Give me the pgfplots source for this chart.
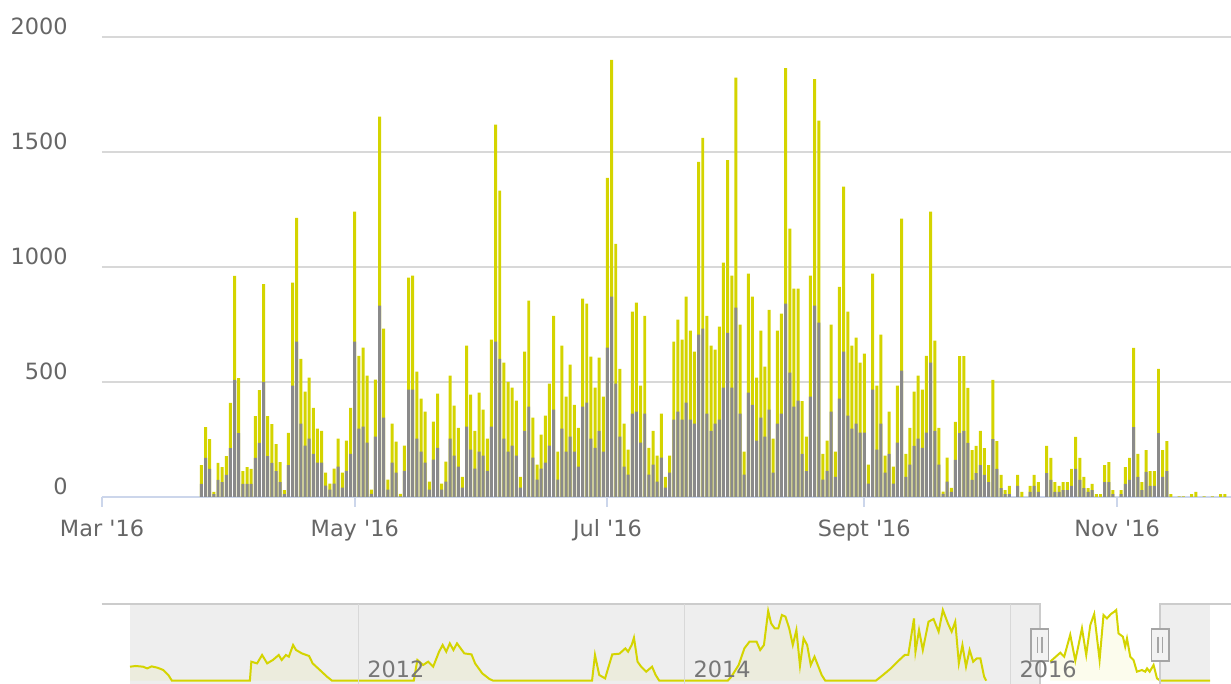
\documentclass[border=0pt]{standalone}
\usepackage{fontspec}
\setmainfont{DejaVu Sans}[Ligatures=TeXOff]
\usepackage{pgfplots}
\usepackage{pgfplotstable}
\pgfplotsset{compat=1.18}
\definecolor{barY}{RGB}{212,212,0}
\definecolor{barG}{RGB}{138,138,138}
\definecolor{gridc}{RGB}{216,216,216}
\definecolor{axisc}{RGB}{204,214,235}
\definecolor{labc}{RGB}{102,102,102}
\definecolor{maskc}{RGB}{238,238,238}
\definecolor{outc}{RGB}{204,204,204}
\definecolor{navlab}{RGB}{119,119,119}
\definecolor{handf}{RGB}{242,242,242}
\definecolor{handd}{RGB}{165,165,165}

% day index from 1 March 2016: total (whole bar) and grey (lower part)
\pgfplotstableread{
d total grey
24 139 57
25 304 170
26 252 122
27 22 13
28 148 74
29 130 65
30 178 96
31 409 213
32 961 509
33 517 278
34 113 57
35 130 57
36 122 57
37 352 170
38 465 235
39 926 500
40 352 178
41 317 148
42 230 113
43 152 65
44 30 13
45 279 139
46 932 484
47 1214 675
48 601 319
49 458 223
50 519 254
51 388 188
52 297 149
53 288 149
54 106 49
55 58 32
56 123 58
57 254 132
58 106 41
59 245 114
60 388 188
61 1241 675
62 614 297
63 649 306
64 528 236
65 32 14
66 510 262
67 1654 832
68 732 345
69 75 32
70 319 149
71 241 106
72 14 3
73 223 114
74 954 467
75 962 467
76 545 254
77 428 197
78 371 149
79 67 32
80 328 162
81 449 214
82 58 32
83 154 67
84 528 254
85 397 180
86 301 132
87 88 41
88 658 306
89 445 206
90 288 123
91 454 197
92 380 180
93 254 114
94 684 306
95 1619 675
96 1332 601
97 584 254
98 501 197
99 475 223
100 419 180
101 87 41
102 632 288
103 854 393
104 345 171
105 141 75
106 271 123
107 354 149
108 493 223
109 788 380
110 197 75
111 658 297
112 436 197
113 575 262
114 401 197
115 301 132
116 862 393
117 841 410
118 610 254
119 475 214
120 606 288
121 436 197
122 1388 649
123 1900 871
124 1100 493
125 557 262
126 319 132
127 206 97
128 806 362
129 845 371
130 484 236
131 788 362
132 214 97
133 288 141
134 180 67
135 362 171
136 88 41
137 180 106
138 675 336
139 771 371
140 684 336
141 871 410
142 723 336
143 632 319
144 1457 706
145 1561 732
146 788 362
147 658 288
148 641 319
149 741 336
150 1019 475
151 1465 714
152 962 475
153 1823 823
154 749 362
155 197 97
156 971 454
157 871 401
158 519 245
159 723 345
160 567 262
161 814 380
162 254 106
163 723 319
164 797 362
165 1865 841
166 1167 541
167 906 393
168 906 419
169 417 187
170 262 113
171 962 436
172 1817 832
173 1636 758
174 188 75
175 245 114
176 749 371
177 197 88
178 914 428
179 1349 632
180 806 354
181 658 297
182 693 319
183 584 280
184 623 280
185 141 58
186 971 467
187 484 206
188 706 319
189 180 106
190 371 188
191 132 58
192 484 236
193 1210 549
194 188 88
195 301 141
196 458 222
197 528 254
198 467 214
199 614 280
200 1241 584
201 680 288
202 301 141
203 23 14
204 171 67
205 40 22
206 327 161
207 613 278
208 613 287
209 474 235
210 204 74
211 222 104
212 287 139
213 213 96
214 139 65
215 509 252
216 243 122
217 96 39
218 30 13
219 48 13
221 96 48
222 22 0
224 48 22
225 96 48
226 65 22
228 222 104
229 170 74
230 65 22
231 48 22
232 65 30
233 65 30
234 122 48
235 261 122
236 170 74
237 87 39
238 39 22
239 57 30
240 13 0
241 13 0
242 139 65
243 152 65
244 30 13
246 30 13
247 130 57
248 170 74
249 648 304
250 187 87
251 65 30
252 204 109
253 113 48
254 113 48
255 557 278
256 204 87
257 243 113
258 13 0
260 3 0
261 3 0
263 13 0
264 22 0
266 3 0
268 3 0
270 13 0
271 13 0
}\dailydata

% navigator series (decimal year, height)
\pgfplotstableread{
yr v
2010.600 14.0
2010.635 14.7
2010.680 14.0
2010.706 12.3
2010.733 14.3
2010.768 13.0
2010.804 10.7
2010.835 5.7
2010.857 0
2011.335 0
2011.344 19.0
2011.379 17.3
2011.410 25.7
2011.441 17.3
2011.476 20.7
2011.512 25.7
2011.530 20.7
2011.556 25.7
2011.574 24.0
2011.600 35.7
2011.618 30.7
2011.654 27.3
2011.698 24.7
2011.720 17.3
2011.764 10.7
2011.808 4.0
2011.839 0
2012.340 0
2012.362 20.7
2012.397 15.7
2012.428 19.0
2012.459 14.0
2012.495 29.0
2012.517 35.7
2012.539 29.0
2012.561 37.3
2012.583 30.7
2012.605 37.3
2012.650 27.3
2012.694 26.3
2012.716 17.3
2012.760 7.3
2012.804 1.7
2012.827 0
2013.433 0
2013.451 25.7
2013.477 5.7
2013.513 2.3
2013.557 26.3
2013.601 27.0
2013.637 32.3
2013.654 29.0
2013.676 35.7
2013.690 43.0
2013.712 19.0
2013.734 14.0
2013.765 9.0
2013.801 14.0
2013.823 5.7
2013.845 0
2014.265 0
2014.287 4.0
2014.332 15.7
2014.367 32.3
2014.398 39.0
2014.442 39.0
2014.464 30.7
2014.487 35.7
2014.513 69.7
2014.531 57.3
2014.553 52.3
2014.575 52.3
2014.597 65.7
2014.619 64.0
2014.642 52.3
2014.664 35.7
2014.686 50.7
2014.708 15.0
2014.730 42.3
2014.752 35.7
2014.774 15.7
2014.797 24.0
2014.841 5.7
2014.863 0
2015.173 0
2015.217 5.7
2015.261 11.7
2015.306 19.0
2015.350 25.7
2015.372 25.7
2015.407 62.3
2015.416 29.0
2015.438 50.7
2015.461 30.7
2015.496 59.0
2015.527 61.7
2015.558 49.0
2015.584 70.7
2015.615 57.3
2015.638 49.0
2015.660 59.0
2015.682 17.3
2015.704 35.7
2015.726 14.0
2015.748 30.7
2015.770 19.0
2015.792 22.3
2015.814 22.3
2015.837 4.0
2015.850 0
}\navA
\pgfplotstableread{
yr v
2016.242 19.0
2016.304 28.0
2016.328 24.0
2016.365 46.0
2016.396 20.0
2016.437 52.4
2016.463 25.7
2016.488 55.7
2016.512 66.7
2016.545 20.7
2016.569 65.7
2016.590 62.3
2016.615 66.7
2016.635 69.0
2016.647 70.7
2016.661 47.3
2016.688 44.0
2016.702 34.0
2016.713 42.3
2016.733 24.0
2016.753 20.7
2016.774 9.0
2016.805 10.7
2016.825 9.0
2016.836 12.3
2016.852 9.0
2016.876 15.7
2016.897 2.3
2016.917 0
2017.222 0
}\navB

\begin{document}
\begin{tikzpicture}
\useasboundingbox (0,0) rectangle (615.5pt,342pt);

% ---------- main chart ----------
\begin{axis}[
  at={(51pt,93.5pt)}, anchor=south west,
  scale only axis, width=564.5pt, height=230pt,
  xmin=0, xmax=272.5, ymin=0, ymax=2000,
  axis x line*=bottom, axis y line*=left,
  x axis line style={draw=axisc, line width=1pt, -},
  y axis line style={draw=none, -},
  xtick={0,61,122,184,245},
  xticklabels={Mar '16, May '16, Jul '16, Sept '16, Nov '16},
  ytick={0,500,1000,1500,2000},
  ymajorgrids,
  major grid style={draw=gridc, line width=1pt},
  tick label style={font=\fontsize{11.2}{13}\selectfont, text=labc},
  /pgf/number format/assume math mode=true,
  /pgf/number format/1000 sep={},
  yticklabel style={anchor=east, inner sep=0pt, xshift=-17pt, yshift=5.5pt},
  xticklabel style={anchor=north, inner sep=0pt, yshift=-6pt},
  ytick style={draw=none},
  xtick style={draw=axisc, line width=1pt},
  xtick align=outside, ytick align=inside,
  major tick length=5pt,
  clip=false,
]
\addplot[ybar, bar width=0.72, bar shift=0pt, fill=barY, draw=none]
  table[x=d, y=total]{\dailydata};
\addplot[ybar, bar width=0.72, bar shift=0pt, fill=barG, draw=none]
  table[x=d, y=grey]{\dailydata};
\end{axis}

% ---------- navigator ----------
\begin{axis}[
  at={(65pt,0pt)}, anchor=south west,
  scale only axis, width=540pt, height=40pt,
  xmin=2010.6, xmax=2017.222, ymin=-3.3, ymax=76.7,
  axis on top,
  axis line style={draw=none},
  xtick={2012,2014,2016}, ytick=\empty,
  xmajorgrids,
  major grid style={draw=gridc, line width=0.75pt},
  tick style={draw=none},
  /pgf/number format/assume math mode=true,
  /pgf/number format/1000 sep={},
  xticklabel style={font=\fontsize{11.2}{13}\selectfont, text=navlab,
    anchor=south west, inner sep=0pt, xshift=4.3pt, yshift=3pt},
  clip=false,
]
\fill[maskc] (axis cs:2010.6,-3.3) rectangle (axis cs:2016.178,76.7);
\fill[maskc] (axis cs:2016.917,-3.3) rectangle (axis cs:2017.222,76.7);
\addplot[draw=none, fill=barY, fill opacity=0.07] table[x=yr, y=v]{\navA} \closedcycle;
\addplot[draw=none, fill=barY, fill opacity=0.07] table[x=yr, y=v]{\navB} \closedcycle;
\addplot[draw=barY, line width=1pt] table[x=yr, y=v]{\navA};
\addplot[draw=barY, line width=1pt] table[x=yr, y=v]{\navB};
% outline
\draw[outc, line width=1pt] (axis cs:2010.426,76.7) -- (axis cs:2016.178,76.7) -- (axis cs:2016.178,-3.3);
\draw[outc, line width=1pt] (axis cs:2016.917,-3.3) -- (axis cs:2016.917,76.7) -- (axis cs:2017.353,76.7);
% handles
\filldraw[fill=handf, draw=handd, line width=0.75pt]
  ([xshift=-4.4pt]axis cs:2016.178,51.7) rectangle ([xshift=4.4pt]axis cs:2016.178,19.5);
\draw[handd, line width=0.6pt] ([xshift=-1.1pt]axis cs:2016.178,44) -- ([xshift=-1.1pt]axis cs:2016.178,27.4);
\draw[handd, line width=0.6pt] ([xshift=1.1pt]axis cs:2016.178,44) -- ([xshift=1.1pt]axis cs:2016.178,27.4);
\filldraw[fill=handf, draw=handd, line width=0.75pt]
  ([xshift=-4.4pt]axis cs:2016.917,51.7) rectangle ([xshift=4.4pt]axis cs:2016.917,19.5);
\draw[handd, line width=0.6pt] ([xshift=-1.1pt]axis cs:2016.917,44) -- ([xshift=-1.1pt]axis cs:2016.917,27.4);
\draw[handd, line width=0.6pt] ([xshift=1.1pt]axis cs:2016.917,44) -- ([xshift=1.1pt]axis cs:2016.917,27.4);
\end{axis}
\end{tikzpicture}
\end{document}
